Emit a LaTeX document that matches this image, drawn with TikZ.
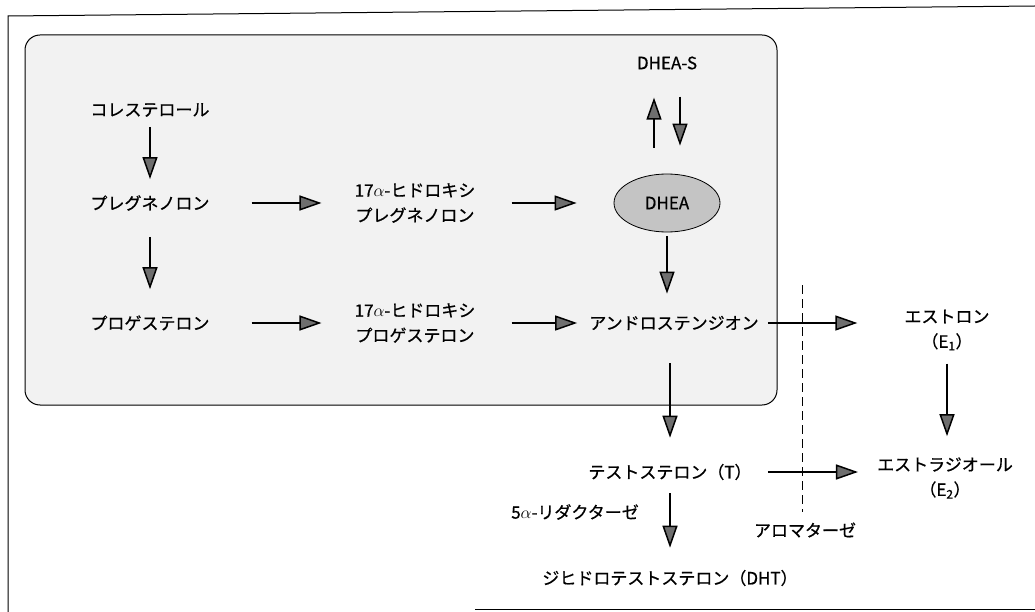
\documentclass[tikz,border=0pt]{standalone}
\usepackage{fontspec}
\setmainfont{Noto Sans CJK JP}[BoldFont=Noto Sans CJK JP, BoldFeatures={FakeBold=0.7}]
\usetikzlibrary{arrows.meta, shapes.geometric}
\definecolor{panelbg}{RGB}{242,242,242}
\definecolor{dheabg}{RGB}{196,196,196}
\definecolor{tipgray}{RGB}{110,110,110}
\tikzset{
  compound/.style={
    inner sep=0pt, align=center,
    font=\fontsize{17}{25}\selectfont\bfseries
  },
  enzyme/.style={
    inner sep=0pt,
    font=\fontsize{17}{20}\selectfont\bfseries
  },
  dheanode/.style={
    ellipse, draw=black, fill=dheabg, line width=0.8pt,
    minimum width=106pt, minimum height=58pt, inner sep=0pt,
    font=\fontsize{17}{20}\selectfont\bfseries
  },
  flowarrow/.style={
    -{Triangle[length=22pt,width=15pt,fill=tipgray]},
    draw=black, line width=1.5pt
  },
  panel/.style={
    draw=black, fill=panelbg, line width=1pt,
    rounded corners=15pt
  },
}
\begin{document}
\begin{tikzpicture}[x=1pt, y=-1pt]

  \useasboundingbox (0,0) rectangle (1035,612);

  %% outer frame
  \draw[line width=1pt] (1035,6) -- (8,16) -- (8,612);
  \draw[line width=1pt] (475,609) -- (1035,609);

  %% adrenal panel
  \draw[panel] (25,35) rectangle (777,405);

  %% compounds
  \node[compound] (chol) at (150,110) {コレステロール};
  \node[compound] (preg) at (150,203) {プレグネノロン};
  \node[compound] (prog) at (150,323) {プロゲステロン};
  \node[compound] (hpreg) at (415,203) {17$\alpha$-ヒドロキシ\\プレグネノロン};
  \node[compound] (hprog) at (415,323) {17$\alpha$-ヒドロキシ\\プロゲステロン};
  \node[dheanode] (dhea) at (667,203) {DHEA};
  \node[compound] (dheas) at (667,63) {DHEA-S};
  \node[compound] (andro) at (674,323) {アンドロステンジオン};
  \node[compound] (estrone) at (947,330) {エストロン\\（E\textsubscript{1}）};
  \node[compound] (estradiol) at (945,478) {エストラジオール\\（E\textsubscript{2}）};
  \node[compound] (testo) at (670,472) {テストステロン（T）};
  \node[compound] (dht) at (670,578) {ジヒドロテストステロン（DHT）};

  %% enzymes
  \node[enzyme] (reductase) at (575,512) {5$\alpha$-リダクターゼ};
  \node[enzyme] (aromatase) at (805,530) {アロマターゼ};

  %% aromatase border
  \draw[line width=0.8pt, dash pattern=on 9pt off 5pt] (802,285) -- (802,512);

  %% arrows
  \draw[flowarrow, shorten <=10pt, shorten >=16pt] (chol.south) -- (preg.north);
  \draw[flowarrow, shorten <=26pt, shorten >=26pt] (preg.south) -- (prog.north);
  \draw[flowarrow, shorten <=42pt, shorten >=33pt] (preg.east) -- (hpreg.west);
  \draw[flowarrow, shorten <=42pt, shorten >=33pt] (prog.east) -- (hprog.west);
  \draw[flowarrow, shorten <=36pt, shorten >=37pt] (hpreg.east) -- (dhea.west);
  \draw[flowarrow, shorten <=36pt, shorten >=12pt] (hprog.east) -- (andro.west);
  \draw[flowarrow, shorten <=26pt, shorten >=28pt]
    ([xshift=-13pt]dhea.north) -- ([xshift=-13pt]dheas.south);
  \draw[flowarrow, shorten <=27pt, shorten >=28pt]
    ([xshift=13pt]dheas.south) -- ([xshift=13pt]dhea.north);
  \draw[flowarrow, shorten <=4pt, shorten >=22pt] (dhea.south) -- (dhea.south |- andro.north);
  \draw[flowarrow, shorten <=9pt, shorten >=47pt] (andro.east) -- (andro.east -| estrone.west);
  \draw[flowarrow, shorten <=13pt, shorten >=21pt] (estrone.south) -- (estrone.south |- estradiol.north);
  \draw[flowarrow, shorten <=33pt, shorten >=26pt] (testo.north |- andro.south) -- (testo.north);
  \draw[flowarrow, shorten <=16pt, shorten >=19pt] (testo.east) -- (testo.east -| estradiol.west);
  \draw[flowarrow, shorten <=13pt, shorten >=22pt] (testo.south) -- (dht.north);

\end{tikzpicture}
\end{document}
